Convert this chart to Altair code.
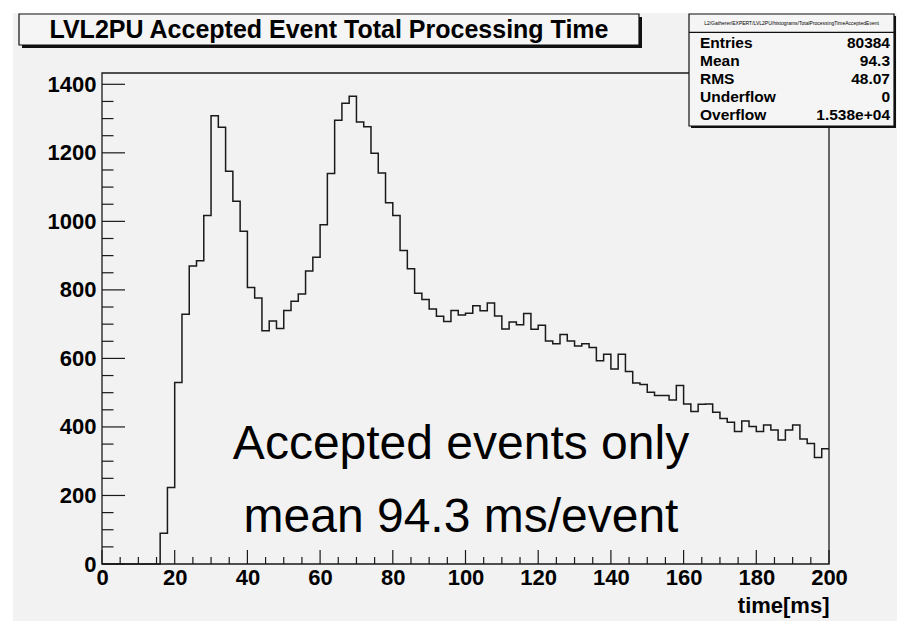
import altair as alt
import pandas as pd

# Histogram of LVL2PU accepted-event processing time, 2 ms bins over 0-200 ms
BIN_MS = 2
counts = [
    0, 0, 0, 0, 0, 0, 0, 0,
    90, 223, 530, 729, 870, 885, 1017,
    1308, 1275, 1146, 1059, 971, 807, 776, 681, 709, 687,
    740, 767, 788, 855, 895, 990, 1140, 1295, 1345, 1365,
    1290, 1276, 1199, 1141, 1054, 1017, 915, 862, 790, 772,
    744, 723, 708, 740, 727, 732, 754, 739, 762, 724,
    686, 706, 698, 731, 685, 697, 651, 643, 670, 651,
    636, 643, 632, 593, 612, 569, 612, 562, 528, 524,
    501, 492, 492, 479, 521, 467, 445, 466, 467, 443,
    425, 414, 387, 417, 401, 387, 406, 391, 362, 391,
    406, 365, 352, 311, 336,
]
bin_low = [i * BIN_MS for i in range(len(counts))]

x_major = list(range(0, 201, 20))
x_minor = [v for v in range(0, 201, 5) if v % 20]
y_major = list(range(0, 1401, 200))
y_minor = [v for v in range(0, 1401, 50) if v % 200]

stat_names = ["Entries", "Mean", "RMS", "Underflow", "Overflow"]
stat_values = ["80384", "94.3", "48.07", "0", "1.538e+04"]
hist_path = "L2/Gatherer/EXPERT/LVL2PU/histograms/TotalProcessingTimeAcceptedEvent"

title_text = "LVL2PU Accepted Event Total Processing Time"
note_lines = ["Accepted events only", "mean 94.3 ms/event"]

W, H = 727, 491
FONT = "Liberation Sans"
BG = "#f2f2f2"
INK = "#1a1a1a"

XS = alt.Scale(domain=[0, 200], nice=False, zero=False)
YS = alt.Scale(domain=[0, 1433], nice=False)

X_AXIS = alt.Axis(
    values=x_major, format="d", labelFont=FONT, labelFontWeight="bold",
    labelFontSize=22, labelColor="black", labelPadding=3, labelFlush=False,
    labelOverlap=False, ticks=False, domain=False, grid=False, zindex=1,
    title="time[ms]", titleFont=FONT, titleFontWeight="bold",
    titleFontSize=22, titleColor="black", titleX=W, titleY=48,
    titleAlign="right", titleBaseline="alphabetic",
)
Y_AXIS = alt.Axis(
    values=y_major, format="d", labelFont=FONT, labelFontWeight="bold",
    labelFontSize=22, labelColor="black", labelPadding=6, labelFlush=False,
    labelOverlap=False, ticks=False, domain=False, grid=False, zindex=1,
    title=None,
)

hist = pd.DataFrame({
    "t": bin_low + [bin_low[-1] + BIN_MS],
    "n": counts + [counts[-1]],
})
one = pd.DataFrame({"k": [0]})

background = alt.Chart(one).mark_rect(color=BG).encode(
    x=alt.value(-89), x2=alt.value(795), y=alt.value(-60), y2=alt.value(548)
)

line = alt.Chart(hist).mark_line(
    interpolate="step-after", color=INK, strokeWidth=1.5
).encode(
    x=alt.X("t:Q", scale=XS, axis=X_AXIS),
    y=alt.Y("n:Q", scale=YS, axis=Y_AXIS),
)

frame = alt.Chart(one).mark_rect(
    fillOpacity=0, stroke=INK, strokeWidth=1.3
).encode(x=alt.value(0), x2=alt.value(W), y=alt.value(0), y2=alt.value(H))

def y_ticks(vals, length):
    return alt.Chart(pd.DataFrame({"n": vals})).mark_rule(
        color=INK, strokeWidth=1.2
    ).encode(
        y=alt.Y("n:Q", scale=YS, axis=Y_AXIS), x=alt.value(0), x2=alt.value(length)
    )

def x_ticks(vals, length):
    return alt.Chart(pd.DataFrame({"t": vals})).mark_rule(
        color=INK, strokeWidth=1.2
    ).encode(
        x=alt.X("t:Q", scale=XS, axis=X_AXIS), y=alt.value(H), y2=alt.value(H - length)
    )

# Title pave with drop shadow
title_shadow = alt.Chart(one).mark_rect(color="#111").encode(
    x=alt.value(-80), x2=alt.value(540), y=alt.value(-56), y2=alt.value(-25)
)
title_box = alt.Chart(one).mark_rect(
    fill="#f5f5f5", stroke="#111", strokeWidth=1.2
).encode(x=alt.value(-83), x2=alt.value(537), y=alt.value(-59), y2=alt.value(-28))
title_label = alt.Chart(one).mark_text(
    font=FONT, fontWeight="bold", fontSize=25, color="black",
    align="center", baseline="middle"
).encode(x=alt.value(227), y=alt.value(-43.5), text=alt.value(title_text))

# Statistics box
stats_shadow = alt.Chart(one).mark_rect(color="#111").encode(
    x=alt.value(589), x2=alt.value(794), y=alt.value(-57), y2=alt.value(55)
)
stats_box = alt.Chart(one).mark_rect(
    fill="#f5f5f5", stroke="#111", strokeWidth=1.2
).encode(x=alt.value(587), x2=alt.value(792), y=alt.value(-59), y2=alt.value(53))
stats_sep = alt.Chart(one).mark_rule(color="#111", strokeWidth=1.2).encode(
    x=alt.value(587), x2=alt.value(792), y=alt.value(-40.7)
)
stats_path = alt.Chart(one).mark_text(
    font=FONT, fontSize=5, color="black", align="center", baseline="middle"
).encode(x=alt.value(689.5), y=alt.value(-50.3), text=alt.value(hist_path))

stats = pd.DataFrame({"name": stat_names, "value": stat_values})
stats_base = alt.Chart(stats).transform_window(
    row="row_number()"
).transform_calculate(py="-42.6 + 17.9 * datum.row")
stats_names = stats_base.mark_text(
    font=FONT, fontWeight="bold", fontSize=15.5, color="black",
    align="left", baseline="alphabetic"
).encode(x=alt.value(598), y=alt.Y("py:Q", scale=None, axis=None), text="name:N")
stats_vals = stats_base.mark_text(
    font=FONT, fontWeight="bold", fontSize=15.5, color="black",
    align="right", baseline="alphabetic"
).encode(x=alt.value(788), y=alt.Y("py:Q", scale=None, axis=None), text="value:N")

def note(text, y):
    return alt.Chart(one).mark_text(
        font=FONT, fontSize=48, color="black", align="center", baseline="alphabetic"
    ).encode(x=alt.value(359), y=alt.value(y), text=alt.value(text))

chart = alt.layer(
    background,
    line,
    frame,
    y_ticks(y_major, 23), y_ticks(y_minor, 11.5),
    x_ticks(x_major, 14), x_ticks(x_minor, 7),
    note(note_lines[0], 386.3), note(note_lines[1], 458.7),
    title_shadow, title_box, title_label,
    stats_shadow, stats_box, stats_sep, stats_path, stats_names, stats_vals,
).properties(
    width=W, height=H,
    autosize=alt.AutoSizeParams(type="none"),
    padding={"left": 102, "top": 73, "right": 68, "bottom": 57},
    background="white",
).configure_view(stroke=None)

chart.save("out.html", embed_options={"renderer": "svg", "actions": False})
